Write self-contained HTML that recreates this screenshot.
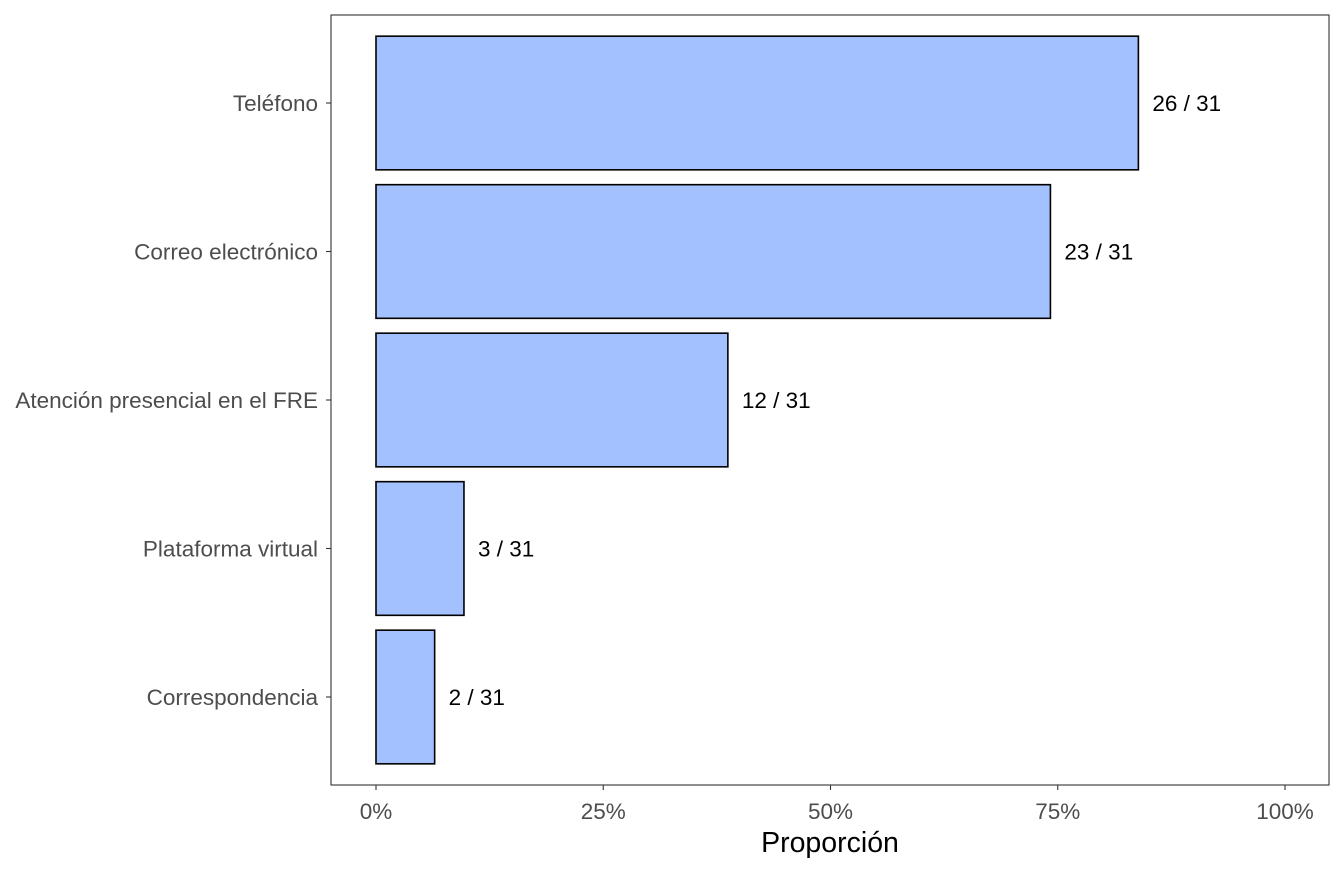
<!DOCTYPE html>
<html><head><meta charset="utf-8"><style>
body{margin:0;background:#fff;}
svg{display:block;font-family:"Liberation Sans",Arial,sans-serif;}
</style></head><body>
<svg id="chart" width="1344" height="873">
<rect x="331" y="15" width="998" height="770" fill="#fff" stroke="#333" stroke-width="1.1"/>
<g id="bars"></g>
<g id="yaxis"></g>
<g id="xaxis"></g>
<text x="830" y="852" font-size="28.5" text-anchor="middle" fill="#000">Proporción</text>
</svg>
<script>
const categories = ["Teléfono","Correo electrónico","Atención presencial en el FRE","Plataforma virtual","Correspondencia"];
const counts = [26, 23, 12, 3, 2];
const total = 31;
const tickValues = [0, 0.25, 0.5, 0.75, 1];
const tickLabels = ["0%","25%","50%","75%","100%"];

const NS = "http://www.w3.org/2000/svg";
const x = v => 376 + v * 909;
const step = 148.5;
const y = i => 103 + i * step;
const bh = step * 0.9;
function mk(tag, attrs, parent, text){
  const e = document.createElementNS(NS, tag);
  for (const k in attrs) e.setAttribute(k, attrs[k]);
  if (text !== undefined) e.textContent = text;
  parent.appendChild(e); return e;
}
const gb = document.getElementById("bars"), gy = document.getElementById("yaxis"), gx = document.getElementById("xaxis");
categories.forEach((c, i) => {
  const p = counts[i] / total;
  const r = mk("rect", {x: x(0), y: y(i) - bh/2, width: x(p) - x(0), height: bh, fill: "#a3c1ff", stroke: "#000", "stroke-width": 1.6}, gb);
  
  
  const t = mk("text", {x: x(p) + 14, y: y(i) + 8, "font-size": 22.5, fill: "#000"}, gb, counts[i] + " / " + total);
  
  
  const l = mk("text", {x: 318, y: y(i) + 8, "font-size": 22.5, fill: "#4d4d4d", "text-anchor": "end"}, gy, c);
  
  
  const tk = mk("line", {x1: 326, x2: 331, y1: y(i), y2: y(i), stroke: "#333", "stroke-width": 1.1}, gy);
  
  
});
tickValues.forEach((v, i) => {
  const tk = mk("line", {x1: x(v), x2: x(v), y1: 785, y2: 790, stroke: "#333", "stroke-width": 1.1}, gx);
  
  
  const l = mk("text", {x: x(v), y: 819, "font-size": 22.5, fill: "#4d4d4d", "text-anchor": "middle"}, gx, tickLabels[i]);
  
  
});
</script>
</body></html>
